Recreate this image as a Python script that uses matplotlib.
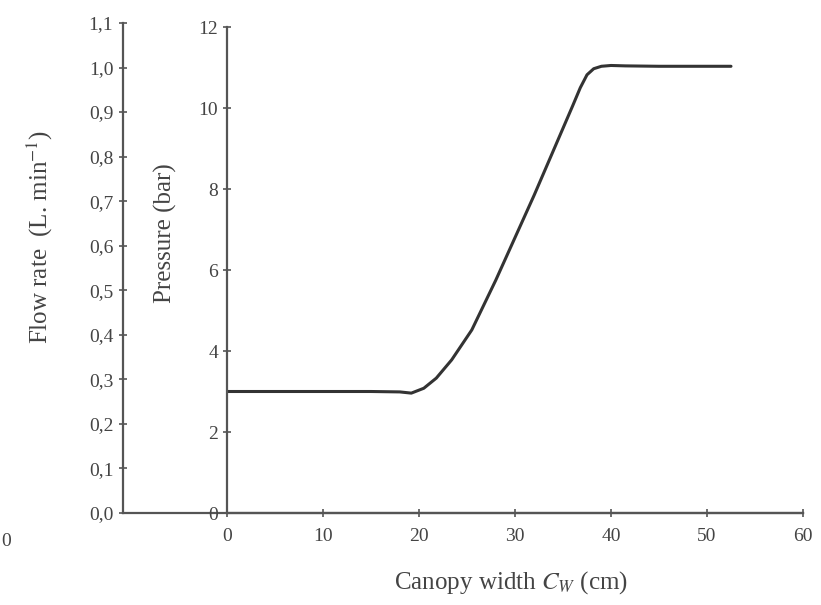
import numpy as np
import matplotlib.pyplot as plt

# pressure response vs canopy width
width_cm = [0, 5, 10, 15, 18, 19.2, 20.5, 21.8, 23.4, 25.5, 28, 30, 32, 34, 36, 36.8, 37.5, 38.2, 39, 40, 41.5, 45, 50, 52.5]
pressure_bar = [3.0, 3.0, 3.0, 3.0, 2.99, 2.96, 3.08, 3.33, 3.78, 4.52, 5.75, 6.8, 7.85, 8.95, 10.05, 10.5, 10.82, 10.97, 11.03, 11.05, 11.04, 11.03, 11.03, 11.03]

x_ticks = [0, 10, 20, 30, 40, 50, 60]
p_ticks = [0, 2, 4, 6, 8, 10, 12]
flow_ticks = [round(0.1 * i, 1) for i in range(12)]
flow_labels = [f"{v:.1f}".replace(".", ",") for v in flow_ticks]

plt.rcParams["font.family"] = ["Liberation Serif", "DejaVu Serif"]
plt.rcParams["mathtext.fontset"] = "stix"

W, H = 821, 605
fig = plt.figure(figsize=(W / 100, H / 100), dpi=100)
spine_c = "#555555"
text_c = "#444444"
tick_fs = 14
label_fs = 18


def fx(px):
    return px / W


def fy(py):
    return 1 - py / H


# outer flow-rate axis
ax_f = fig.add_axes([fx(123), fy(513), fx(803 - 123), (513 - 23) / H])
ax_f.set_ylim(0, 1.1)
ax_f.set_xlim(0, 1)
ax_f.set_yticks(flow_ticks)
ax_f.set_yticklabels(flow_labels)
ax_f.set_xticks([])
for s in ("top", "right"):
    ax_f.spines[s].set_visible(False)
for s in ("left", "bottom"):
    ax_f.spines[s].set_color(spine_c)
    ax_f.spines[s].set_linewidth(1.6)
ax_f.tick_params(axis="y", direction="inout", length=6, width=1.2, colors=spine_c,
                 labelcolor=text_c, labelsize=tick_fs, pad=4)

# inner pressure axis
ax = fig.add_axes([fx(227), fy(513), fx(803 - 227), (513 - 27) / H])
ax.patch.set_alpha(0)
ax.plot(width_cm, pressure_bar, color="#333333", lw=2.2, solid_capstyle="round")
ax.set_xlim(0, 60)
ax.set_ylim(0, 12)
ax.set_xticks(x_ticks)
ax.set_yticks(p_ticks)
for s in ("top", "right"):
    ax.spines[s].set_visible(False)
for s in ("left", "bottom"):
    ax.spines[s].set_color(spine_c)
    ax.spines[s].set_linewidth(1.6)
ax.tick_params(direction="inout", length=6, width=1.2, colors=spine_c,
               labelcolor=text_c, labelsize=tick_fs)
ax.tick_params(axis="x", pad=8)

# axis titles
fig.text(fx(40), fy(237), "Flow rate  (L. min$^{-1}$)", rotation=90, fontsize=label_fs,
         color=text_c, ha="center", va="center")
fig.text(fx(165), fy(233), "Pressure (bar)", rotation=90, fontsize=label_fs,
         color=text_c, ha="center", va="center")
fig.text(fx(511), fy(583), "Canopy width $C_W$ (cm)", fontsize=label_fs,
         color=text_c, ha="center", va="center")

fig.text(fx(6), fy(541), "0", fontsize=tick_fs, color=text_c, ha="center", va="center")

fig.savefig("out.png", dpi=100)
